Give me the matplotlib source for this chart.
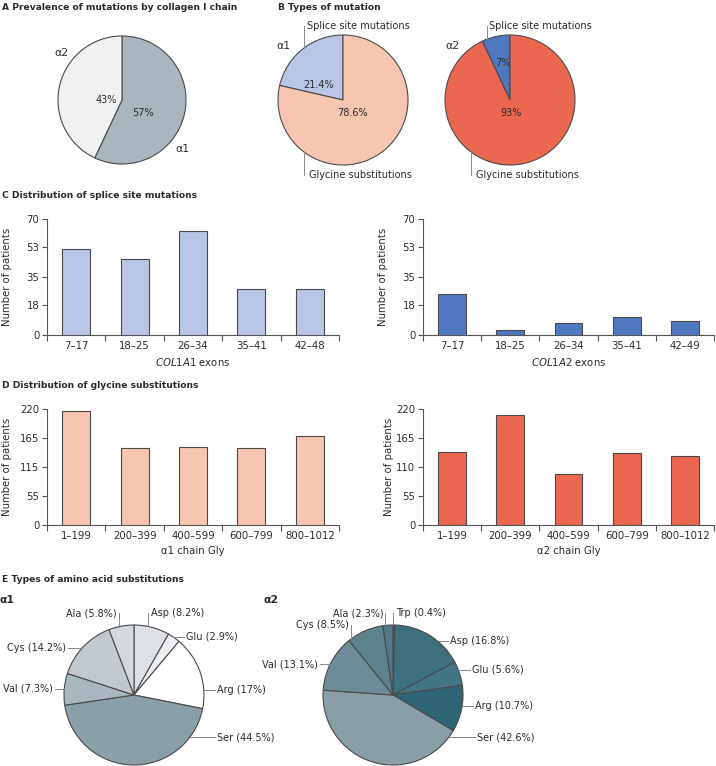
import numpy as np
import matplotlib
matplotlib.use("Agg")
import matplotlib.pyplot as plt

plt.rcParams['font.family'] = ['DejaVu Sans']
plt.rcParams['mathtext.fontset'] = 'dejavusans'

# ---------------- data ----------------
chain_labels = ['α1', 'α2']
chain_share = [57, 43]

mut_types = ['Splice site mutations', 'Glycine substitutions']
a1_mut_share = [21.4, 78.6]
a2_mut_share = [7, 93]

a1_exon_cats = ['7–17', '18–25', '26–34', '35–41', '42–48']
a1_splice = [52, 46, 63, 28, 27.5]
a2_exon_cats = ['7–17', '18–25', '26–34', '35–41', '42–49']
a2_splice = [25, 3, 7, 11, 8.5]
splice_ticks = [0, 18, 35, 53, 70]
splice_ticklabels = ['0', '18', '35', '53', '70']

gly_cats = ['1–199', '200–399', '400–599', '600–799', '800–1012']
a1_gly = [217, 146, 148, 146, 169]
a2_gly = [138, 209, 96, 136, 131]
gly_ticks = [0, 55, 110, 165, 220]
a1_gly_ticklabels = ['0', '55', '115', '165', '220']
a2_gly_ticklabels = ['0', '55', '110', '165', '220']

a1_aa = ['Asp', 'Glu', 'Arg', 'Ser', 'Val', 'Cys', 'Ala']
a1_aa_pct = [8.2, 2.9, 17, 44.5, 7.3, 14.2, 5.8]
a2_aa = ['Trp', 'Asp', 'Glu', 'Arg', 'Ser', 'Val', 'Cys', 'Ala']
a2_aa_pct = [0.4, 16.8, 5.6, 10.7, 42.6, 13.1, 8.5, 2.3]

# ---------------- style ----------------
W, H = 716, 766
TXT = '#2b2b2b'
EDGE = '#4a4a4a'
FS = 7.3      # ticks / axis labels
PFS = 7.0     # pie labels
TFS = 6.6     # panel titles

fig = plt.figure(figsize=(W / 100, H / 100), dpi=100)
fig.patch.set_facecolor('white')

over = fig.add_axes([0, 0, 1, 1])
over.set_xlim(0, W)
over.set_ylim(H, 0)
over.axis('off')
over.set_zorder(5)


def px_axes(x0, y0, x1, y1):
    return fig.add_axes([x0 / W, 1 - y1 / H, (x1 - x0) / W, (y1 - y0) / H])


def pie_axes(cx, cy, r):
    return px_axes(cx - r, cy - r, cx + r, cy + r)


def draw_pie(ax, vals, colors, counterclock):
    ax.pie(vals, colors=colors, startangle=90, counterclock=counterclock,
           wedgeprops=dict(edgecolor=EDGE, linewidth=0.8))
    ax.set_xlim(-1, 1)
    ax.set_ylim(-1, 1)
    ax.set_aspect('equal')
    ax.axis('off')


def leader(ax, text, x, y, ha, kind, lx=None):
    """text at (x,y) in pie units; leader line horizontal ('h') or vertical ('v') to circle."""
    ax.text(x, y, text, ha=ha, va='center', fontsize=PFS, color=TXT, clip_on=False)
    if kind == 'h':
        s = 1 if x > 0 else -1
        xe = s * np.sqrt(max(0.0, 1 - y ** 2))
        xs = x - s * 0.03
        ax.plot([xs, xe], [y, y], color='#888888', lw=0.7, clip_on=False)
    else:
        s = 1 if y > 0 else -1
        ye = s * np.sqrt(max(0.0, 1 - lx ** 2))
        ax.plot([lx, lx], [y, ye], color='#888888', lw=0.7, clip_on=False)


def title(x, y, s):
    over.text(x, y, s, fontsize=TFS, fontweight='bold', color=TXT, va='center', ha='left')


# ---------------- A ----------------
title(2, 7, 'A Prevalence of mutations by collagen I chain')
axA = pie_axes(122, 100, 64)
draw_pie(axA, chain_share, ['#a9b6bd', '#eff1f3'], counterclock=False)
axA.text(0.94, -0.76, chain_labels[0], ha='center', va='center', fontsize=PFS + 0.8, color=TXT)
axA.text(-0.94, 0.73, chain_labels[1], ha='center', va='center', fontsize=PFS + 0.8, color=TXT)
axA.text(0.33, -0.2, f'{chain_share[0]}%', ha='center', va='center', fontsize=PFS, color=TXT)
axA.text(-0.25, 0.0, f'{chain_share[1]}%', ha='center', va='center', fontsize=PFS, color=TXT)

# ---------------- B ----------------
title(278, 7, 'B Types of mutation')
axB1 = pie_axes(343, 100, 65)
draw_pie(axB1, a1_mut_share, ['#b9c5e5', '#f8c5b1'], counterclock=True)
axB1.text(-0.38, 0.23, f'{a1_mut_share[0]}%', ha='center', va='center', fontsize=PFS, color=TXT)
axB1.text(0.15, -0.2, f'{a1_mut_share[1]}%', ha='center', va='center', fontsize=PFS, color=TXT)
axB1.text(-0.92, 0.83, 'α1', ha='center', va='center', fontsize=PFS + 0.8, color=TXT)
leader(axB1, mut_types[0], -0.55, 1.14, 'left', 'v', lx=-0.6)
leader(axB1, mut_types[1], -0.52, -1.15, 'left', 'v', lx=-0.6)

axB2 = pie_axes(510, 100, 65)
draw_pie(axB2, a2_mut_share, ['#5078c0', '#ec6750'], counterclock=True)
axB2.text(-0.11, 0.57, f'{a2_mut_share[0]}%', ha='center', va='center', fontsize=PFS, color=TXT)
axB2.text(0.02, -0.2, f'{a2_mut_share[1]}%', ha='center', va='center', fontsize=PFS, color=TXT)
axB2.text(-0.89, 0.83, 'α2', ha='center', va='center', fontsize=PFS + 0.8, color=TXT)
leader(axB2, mut_types[0], -0.32, 1.14, 'left', 'v', lx=-0.35)
leader(axB2, mut_types[1], -0.52, -1.15, 'left', 'v', lx=-0.6)


# ---------------- bars ----------------
def bar_panel(box, cats, vals, color, ticks, ticklabels, xlabel, ylabel_x):
    ax = px_axes(*box)
    x = np.arange(len(cats))
    ax.bar(x, vals, width=0.48, color=color, edgecolor=EDGE, linewidth=0.8, zorder=3)
    ax.set_xlim(-0.5, len(cats) - 0.5)
    ax.set_ylim(ticks[0], ticks[-1])
    for sp in ['top', 'right']:
        ax.spines[sp].set_visible(False)
    for sp in ['left', 'bottom']:
        ax.spines[sp].set_color('#555555')
        ax.spines[sp].set_linewidth(0.8)
    ax.set_xticks(x)
    ax.set_xticklabels(cats, fontsize=FS, color=TXT)
    ax.tick_params(axis='x', which='major', length=0, pad=4)
    ax.set_xticks(np.arange(-0.5, len(cats)), minor=True)
    ax.tick_params(axis='x', which='minor', length=4, width=0.8, color='#555555', direction='out')
    ax.set_yticks(ticks)
    ax.set_yticklabels(ticklabels, fontsize=FS, color=TXT)
    ax.tick_params(axis='y', length=3.5, width=0.8, color='#555555', pad=2)
    ax.set_xlabel(xlabel, fontsize=FS, color=TXT, labelpad=4)
    ax.set_facecolor('none')
    ymid = (box[1] + box[3]) / 2
    over.text(ylabel_x, ymid, 'Number of patients', rotation=90, ha='center', va='center',
              fontsize=FS, color=TXT)
    return ax


title(2, 196, 'C Distribution of splice site mutations')
bar_panel((47, 219, 339, 335), a1_exon_cats, a1_splice, '#b9c5e5', splice_ticks,
          splice_ticklabels, r'$\mathit{COL1A1}$ exons', 7)
bar_panel((423, 219, 714, 335), a2_exon_cats, a2_splice, '#5078c0', splice_ticks,
          splice_ticklabels, r'$\mathit{COL1A2}$ exons', 383)

title(2, 386, 'D Distribution of glycine substitutions')
bar_panel((47, 409, 339, 525), gly_cats, a1_gly, '#f8c5b1', gly_ticks,
          a1_gly_ticklabels, 'α1 chain Gly', 7)
bar_panel((423, 409, 714, 525), gly_cats, a2_gly, '#ec6750', gly_ticks,
          a2_gly_ticklabels, 'α2 chain Gly', 389)

# ---------------- E ----------------
title(2, 580, 'E Types of amino acid substitutions')
over.text(0, 600, 'α1', fontsize=PFS + 0.8, fontweight='bold', color=TXT, va='center')
over.text(263, 600, 'α2', fontsize=PFS + 0.8, fontweight='bold', color=TXT, va='center')

axE1 = pie_axes(134, 695, 70)
a1_colors = ['#dde1e5', '#eceef0', '#ffffff', '#8b9fa9', '#a9b7be', '#c1c9ce', '#d3d8dc']
draw_pie(axE1, a1_aa_pct, a1_colors, counterclock=False)
e1_layout = {
    'Asp': (0.24, 1.17, 'left', 'v', 0.2),
    'Glu': (0.74, 0.83, 'left', 'h', None),
    'Arg': (1.19, 0.07, 'left', 'h', None),
    'Ser': (1.19, -0.6, 'left', 'h', None),
    'Val': (-1.16, 0.09, 'right', 'h', None),
    'Cys': (-0.97, 0.67, 'right', 'h', None),
    'Ala': (-0.25, 1.17, 'right', 'v', -0.22),
}
for name, pct in zip(a1_aa, a1_aa_pct):
    x, y, ha, kind, lx = e1_layout[name]
    leader(axE1, f'{name} ({pct:g}%)', x, y, ha, kind, lx)

axE2 = pie_axes(393, 695, 70)
a2_colors = ['#3a6a78', '#3d6f7d', '#417583', '#2e6573', '#8a9ea8', '#6d8c97', '#5e828e', '#54788a']
draw_pie(axE2, a2_aa_pct, a2_colors, counterclock=False)
e2_layout = {
    'Trp': (0.04, 1.17, 'left', 'v', 0.0),
    'Asp': (0.81, 0.77, 'left', 'h', None),
    'Glu': (1.13, 0.36, 'left', 'h', None),
    'Arg': (1.17, -0.157, 'left', 'h', None),
    'Ser': (1.2, -0.6, 'left', 'h', None),
    'Val': (-1.07, 0.44, 'right', 'h', None),
    'Cys': (-0.63, 1.0, 'right', 'v', -0.6),
    'Ala': (-0.14, 1.17, 'right', 'v', -0.11),
}
for name, pct in zip(a2_aa, a2_aa_pct):
    x, y, ha, kind, lx = e2_layout[name]
    leader(axE2, f'{name} ({pct:g}%)', x, y, ha, kind, lx)

fig.savefig('out.png', dpi=100, facecolor='white')
